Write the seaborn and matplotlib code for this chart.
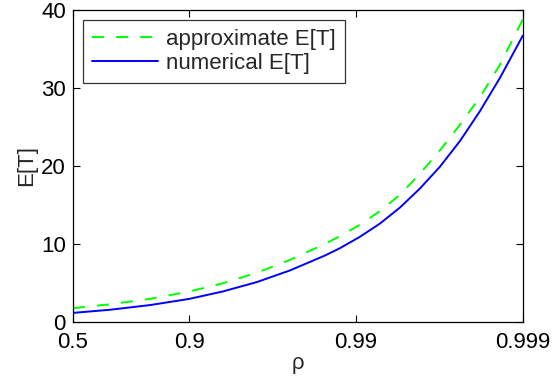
import numpy as np
import pandas as pd
import matplotlib
matplotlib.use("Agg")
import matplotlib.pyplot as plt
import seaborn as sns

# values
rho = [0.5, 0.700, 0.8274, 0.9, 0.937, 0.9606, 0.9751, 0.9846, 0.9875,
       0.9905, 0.9928, 0.99454, 0.99586, 0.99686, 0.99762, 0.99819,
       0.99863, 0.999]
approx_ET = [1.75, 2.25, 2.95, 3.9, 4.95, 6.3, 7.95, 10.0, 11.0,
             12.45, 14.2, 16.3, 19.0, 22.0, 25.3, 28.8, 33.0, 38.8]
numerical_ET = [1.15, 1.55, 2.15, 2.95, 3.9, 5.1, 6.6, 8.5, 9.45,
                10.9, 12.6, 14.65, 17.1, 19.9, 23.2, 27.0, 31.3, 36.7]
tick_rho = [0.5, 0.9, 0.99, 0.999]
tick_labels = ["0.5", "0.9", "0.99", "0.999"]

df = pd.DataFrame({"rho": rho, "approx": approx_ET, "numerical": numerical_ET})
df["x"] = 1.0 / (1.0 - df["rho"])

sns.set_style("ticks")
plt.rcParams["font.family"] = ["Liberation Sans", "DejaVu Sans"]
plt.rcParams["xtick.direction"] = "in"
plt.rcParams["ytick.direction"] = "in"

fig = plt.figure(figsize=(5.52, 3.85), dpi=100)
ax = fig.add_axes([0.132, 0.164, 0.815, 0.810])

sns.lineplot(data=df, x="x", y="approx", ax=ax, color="#00ff00", lw=1.4,
             linestyle=(0, (6.2, 6.2)), label="approximate E[T]")
sns.lineplot(data=df, x="x", y="numerical", ax=ax, color="#0000ff", lw=1.4,
             label="numerical E[T]")

ax.set_xscale("log")
ax.set_xlim(2, 1000)
ax.set_ylim(0, 40)
xt = [1.0 / (1.0 - r) for r in tick_rho]
ax.set_xticks(xt)
ax.set_xticklabels(tick_labels)
ax.xaxis.set_minor_locator(matplotlib.ticker.NullLocator())
ax.set_yticks([0, 10, 20, 30, 40])
ax.tick_params(axis="both", labelsize=16, length=5, width=0.8, colors="black",
               top=True, right=True, pad=5)
ax.tick_params(axis="x", pad=7)
for s in ax.spines.values():
    s.set_visible(True)
    s.set_color("black")
    s.set_linewidth(0.9)

ax.set_xlabel("ρ", fontsize=16, labelpad=0)
ax.set_ylabel("E[T]", fontsize=16, labelpad=3)

leg = ax.legend(loc="upper left", fontsize=16, handlelength=3.0, frameon=True,
                fancybox=False, edgecolor="black", borderaxespad=0.45,
                borderpad=0.4, labelspacing=0.15, handletextpad=0.35)
leg.get_frame().set_linewidth(0.9)

fig.savefig("out.png", dpi=100)
